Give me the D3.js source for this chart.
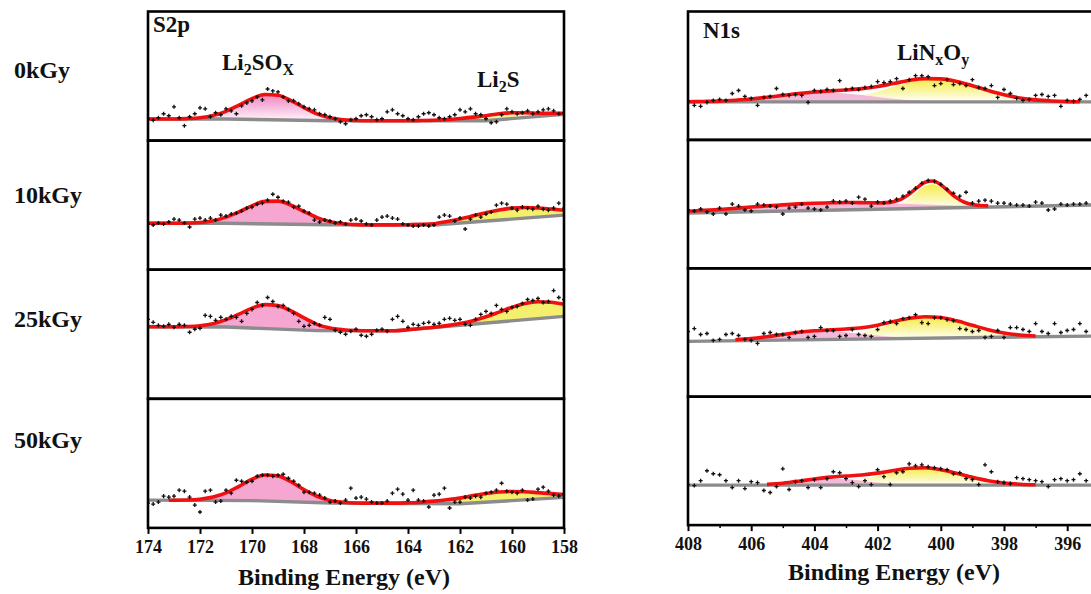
<!DOCTYPE html>
<html><head><meta charset="utf-8">
<script src="https://cdn.jsdelivr.net/npm/d3@7"></script>
<style>
html,body{margin:0;padding:0;background:#fff;overflow:hidden}
svg text{font-family:"Liberation Serif","Times New Roman",serif;font-weight:bold;fill:#111}
</style></head><body>
<svg id="c" width="1091" height="594"></svg>
<script>
// ---------------- DATA ----------------
const doseLabels = ["0kGy","10kGy","25kGy","50kGy"];
const s2pTicks = [174,172,170,168,166,164,162,160,158];
const n1sTicks = [408,406,404,402,400,398,396];
const n1sMinorTicks = [407,405,403,401,399,397,395];

// S2p region (binding energy, intensity a.u.)
const s2pBackground = [
 [[174,21.7],[171,21.7],[167,20],[161,20],[158,26.5]],
 [[174,46.7],[171,46.7],[167,45.2],[163,45],[158,55]],
 [[174,72.5],[171,72.3],[167.5,68.6],[164.5,68.5],[158,83]],
 [[174,28],[170,27.5],[167,25],[162,24.3],[158,30.7]]
];
const s2pLi2SOx = [
 [[173,21.7],[172.5,22.1],[172,23.0],[171.5,25.2],[171,29.5],[170.5,35.7],[170,42.3],[169.5,46.4],[169,45.6],[168.5,40.3],[168,33.2],[167.5,26.9],[167,22.9],[166.5,21.0],[166,20.3],[165.5,20]],
 [[173,46.7],[172.5,47.0],[172,47.6],[171.5,49.3],[171,52.9],[170.5,58.2],[170,64.3],[169.5,68.8],[169,69.05],[168.5,65.0],[168,58.6],[167.5,52.5],[167,48.4],[166.5,46.3],[166,45.4],[165.5,45.1]],
 [[173,72.5],[172.5,72.8],[172,73.6],[171.5,75.6],[171,79.7],[170.5,85.3],[170,91.3],[169.5,94.8],[169,93.8],[168.5,88.5],[168,81.4],[167.5,75.0],[167,71.3],[166.5,69.6],[166,68.8],[165.5,68.5]],
 [[173,27.9],[172.5,28.1],[172,28.9],[171.5,31.0],[171,35.2],[170.5,41.9],[170,49.1],[169.5,53.3],[169,52.4],[168.5,46.5],[168,38.6],[167.5,31.9],[167,27.7],[166.5,25.9],[166,25.1],[165.5,24.9]]
];
const s2pLi2S = [
 [[163.5,20.2],[163,20.5],[162.5,21.1],[162,22.2],[161.5,23.6],[161,25.1],[160.5,27.0],[160,28.0],[159.5,28.1],[159,27.6],[158.5,27.4],[158,27.5]],
 [[164,45.3],[163.5,45.6],[163,46.3],[162.5,48.5],[162,51.1],[161.5,54.2],[161,57.4],[160.5,60.2],[160,62.0],[159.5,62.6],[159,62.2],[158.5,61.1],[158,59.9]],
 [[163.5,70.8],[163,72.1],[162.5,73.7],[162,75.8],[161.5,78.7],[161,82.6],[160.5,87.3],[160,92.1],[159.5,96.0],[159,97.7],[158.5,97.3],[158,95.2]],
 [[164.5,24.9],[164,25.3],[163.5,25.9],[163,26.95],[162.5,28.3],[162,30.0],[161.5,32.6],[161,34.7],[160.5,36.2],[160,36.7],[159.5,36.4],[159,35.5],[158.5,34.5],[158,33.7]]
];
const s2pEnvelope = [
 [[174,21.7],[173,21.7],[172.5,22.1],[172,23.0],[171.5,25.2],[171,29.5],[170.5,35.7],[170,42.3],[169.5,46.4],[169,45.6],[168.5,40.3],[168,33.2],[167.5,26.9],[167,22.9],[166.5,21.0],[166,20.3],[165.5,20],[164,20],[163.5,20.2],[163,20.5],[162.5,21.1],[162,22.2],[161.5,23.6],[161,25.1],[160.5,27.0],[160,28.0],[159.5,28.1],[159,27.6],[158.5,27.4],[158,27.5]],
 [[174,46.7],[173,46.7],[172.5,47.0],[172,47.6],[171.5,49.3],[171,52.9],[170.5,58.2],[170,64.3],[169.5,68.8],[169,69.05],[168.5,65.0],[168,58.6],[167.5,52.5],[167,48.4],[166.5,46.3],[166,45.4],[165.5,45.1],[164.5,45.1],[164,45.3],[163.5,45.6],[163,46.3],[162.5,48.5],[162,51.1],[161.5,54.2],[161,57.4],[160.5,60.2],[160,62.0],[159.5,62.6],[159,62.2],[158.5,61.1],[158,59.9]],
 [[174,72.5],[173,72.5],[172.5,72.8],[172,73.6],[171.5,75.6],[171,79.7],[170.5,85.3],[170,91.3],[169.5,94.8],[169,93.8],[168.5,88.5],[168,81.4],[167.5,75.0],[167,71.3],[166.5,69.6],[166,68.8],[165.5,68.5],[164.5,68.5],[164,69.6],[163.5,70.8],[163,72.1],[162.5,73.7],[162,75.8],[161.5,78.7],[161,82.6],[160.5,87.3],[160,92.1],[159.5,96.0],[159,97.7],[158.5,97.3],[158,95.2]],
 [[173.2,27.9],[172.5,28.1],[172,28.9],[171.5,31.0],[171,35.2],[170.5,41.9],[170,49.1],[169.5,53.3],[169,52.4],[168.5,46.5],[168,38.6],[167.5,31.9],[167,27.7],[166.5,25.9],[166,25.1],[165.5,24.9],[164.5,24.9],[164,25.3],[163.5,25.9],[163,26.95],[162.5,28.3],[162,30.0],[161.5,32.6],[161,34.7],[160.5,36.2],[160,36.7],[159.5,36.4],[159,35.5],[158.5,34.5],[158,33.7]]
];
// measured S2p spectra, 174 eV -> 158 eV in 0.2 eV steps
const s2pScanStart = 174, s2pScanStep = 0.2;
const s2pScan = [
 [22,20.5,23,27,25,34,23,15,24,27,33,32,24,28,26,32,30,27,35,38,40,44,41,52,50,49,44,40,40,37,34,32,31,27,26,24,22,19,17,21,22,25,26,24,21,22,29,31,27,25,22,21,24,27,28,26,23,22,24,26,31,29,32,27,26,22,18,19,26,32,29,27,28,30,27,29,31,32,30,27,28],
 [46,45,47,46,48,51,50,47,43,51,52,50,52,50,55,54,56,57,59,62,63,66,67,70,76,73,69,68,63,64,59,57,50,48,50,49,47,48,46,50,51,49,46,45,50,53,54,52,51,46,45,44,44,45,44,45,53,55,54,49,52,41,51,55,53,56,58,65,67,66,62,60,63,62,61,64,61,60,62,67,62],
 [80,77,74,73,75,72,75,74,67,70,71,84,83,79,82,80,83,82,78,86,90,97,94,102,98,93,94,90,86,78,73,74,76,74,82,80,69,67,65,68,70,64,63,65,69,70,68,80,83,78,72,75,74,76,77,75,76,80,81,79,80,75,74,80,85,88,86,94,90,88,92,93,96,100,99,101,97,98,109,102,100],
 [25,24,26,32,31,32,38,37,31,23,16,37,38,26,27,38,35,48,47,46,47,52,53,53,52,53,54,50,47,43,36,36,35,33,30,26,27,25,28,40,30,31,29,26,25,25,27,35,39,34,28,38,28,27,21,33,34,40,20,26,26,31,30,32,31,35,36,38,45,37,36,35,38,28,29,39,41,37,33,32,34]
];

// N1s region
const n1sBackground = [
 [[408,38.5],[394,38.5]],
 [[408,56],[394,64.8]],
 [[408,56],[394,61.9]],
 [[408,40.5],[394,40.5]]
];
const n1sHighBE = [
 [[408,38.65],[407.5,38.9],[407,39.3],[406.5,40.2],[406,41.4],[405.5,43.1],[405,45.0],[404.5,46.7],[404,47.8],[403.5,47.9],[403,47.0],[402.5,45.4],[402,43.5],[401.5,41.7],[401,40.4],[400.5,39.5],[400,39.0],[399.5,38.7],[399,38.6],[398.5,38.5]],
 [[408,57.7],[407.5,58.6],[407,59.6],[406.5,60.7],[406,62.0],[405.5,63.2],[405,64.2],[404.5,65.2],[404,65.9],[403.5,66.3],[403,66.6],[402.5,66.5],[402,66.1],[401.5,65.7],[401,65.1],[400.5,64.5],[400,64.0],[399.5,63.7],[399,63.4],[398.5,63.2],[398,63.1],[397.5,63.1],[397,63.25],[396.5,63.4],[396,63.7]],
 [[407,57.05],[406.5,57.7],[406,58.9],[405.5,60.75],[405,62.9],[404.5,64.9],[404,66.1],[403.5,66.2],[403,65.2],[402.5,63.5],[402,61.9],[401.5,60.65],[401,59.85],[400.5,59.6],[400,59.5]],
 [[406,40.5],[405.5,41.25],[405,42.4],[404.5,44.2],[404,46.2],[403.5,47.3],[403,46.8],[402.5,45.0],[402,43.1],[401.5,41.6],[401,40.9],[400.5,40.6],[400,40.5]]
];
const n1sLiNxOy = [
 [[404.5,38.8],[404,39.2],[403.5,40.2],[403,42.1],[402.5,45.0],[402,49.1],[401.5,53.9],[401,58.3],[400.5,61.0],[400,61.3],[399.5,59.0],[399,54.8],[398.5,50.1],[398,45.8],[397.5,42.5],[397,40.5],[396.5,39.4],[396,38.8],[395.5,38.6]],
 [[402,59.9],[401.75,60.45],[401.5,61.9],[401.25,64.95],[401,70.4],[400.75,77.35],[400.5,83.3],[400.25,85.05],[400,81.6],[399.75,75.2],[399.5,69.0],[399.25,64.85],[399,62.8],[398.75,62.15],[398.5,62.0]],
 [[404,58.3],[403.5,59.4],[403,61.4],[402.5,64.6],[402,69.0],[401.5,74.15],[401,78.45],[400.5,80.6],[400,80.0],[399.5,76.8],[399,72.3],[398.5,67.9],[398,64.5],[397.5,62.5],[397,61.5],[396.5,61.1]],
 [[404.5,40.7],[404,41.0],[403.5,41.8],[403,43.4],[402.5,46.2],[402,50.0],[401.5,54.1],[401,57.1],[400.5,57.9],[400,56.1],[399.5,52.5],[399,48.4],[398.5,44.9],[398,42.6],[397.5,41.4],[397,40.8],[396.5,40.5]]
];
const n1sEnvelope = [
 [[408,38.65],[407.5,38.9],[407,39.3],[406.5,40.2],[406,41.4],[405.5,43.1],[405,45.1],[404.5,47.0],[404,48.5],[403.5,49.6],[403,50.6],[402.5,51.9],[402,54.1],[401.5,57.1],[401,60.2],[400.5,62.0],[400,61.8],[399.5,59.2],[399,54.9],[398.5,50.1],[398,45.8],[397.5,42.5],[397,40.5],[396.5,39.4],[396,38.8],[395.6,38.6]],
 [[408,57.7],[407.5,58.6],[407,59.6],[406.5,60.7],[406,62.0],[405.5,63.2],[405,64.2],[404.5,65.2],[404,65.9],[403.5,66.3],[403,66.6],[402.5,66.5],[402,66.2],[401.75,66.45],[401.5,67.5],[401.25,70.15],[401,75.1],[400.75,81.65],[400.5,87.1],[400.25,88.45],[400,84.6],[399.75,77.8],[399.5,71.3],[399.25,66.85],[399,64.5],[398.75,63.6],[398.5,63.2]],
 [[406.5,57.7],[406,58.9],[405.5,60.75],[405,62.95],[404.5,65.2],[404,66.7],[403.5,67.7],[403,68.5],[402.5,69.8],[402,72.4],[401.5,76.05],[401,79.35],[400.5,81.0],[400,80.1],[399.5,76.8],[399,72.3],[398.5,67.9],[398,64.5],[397.5,62.5],[397,61.5]],
 [[405.5,41.25],[405,42.45],[404.5,44.4],[404,46.7],[403.5,48.6],[403,49.7],[402.5,50.7],[402,52.6],[401.5,55.2],[401,57.5],[400.5,58.0],[400,56.1],[399.5,52.5],[399,48.4],[398.5,44.9],[398,42.6],[397.5,41.4],[397,40.8]]
];
// measured N1s spectra, 408 eV -> 395.4 eV in 0.2 eV steps
const n1sScanStart = 408, n1sScanStep = 0.2;
const n1sScan = [
 [39,35,34,38,40,41,40,47,50,44,42,35,43,44,52,46,45,46,45,38,50,49,51,50,60,51,52,51,53,54,59,58,59,62,52,61,65,65,64,55,57,61,56,57,55,61,53,52,55,43,51,47,42,40,41,45,46,44,45,34,40,39,41,45],
 [59,58,60,57,55,61,55,65,63,59,58,65,64,63,62,55,61,62,65,61,60,59,62,68,67,68,66,72,70,63,67,66,68,70,73,77,81,86,89,88,85,80,76,73,77,66,68,69,68,66,66,65,64,64,63,67,66,59,60,65,64,65,65,66],
 [66,69,63,64,57,58,63,64,62,58,57,54,64,65,63,63,60,65,66,60,61,70,67,67,61,62,68,63,62,61,68,75,76,74,79,80,83,75,74,80,80,78,77,69,68,66,67,60,61,67,60,70,70,68,66,74,66,64,74,65,67,68,74,66],
 [41,40,45,55,52,51,45,38,45,37,44,43,35,33,39,57,36,44,45,38,46,38,47,54,53,47,43,39,45,41,56,49,41,53,54,62,60,61,59,58,57,56,52,53,47,46,41,61,54,44,43,42,48,47,46,45,44,39,46,47,45,46,52,45]
];

// ---------------- STYLE / LAYOUT ----------------
const W = 1091, H = 594;
const leftLayout  = {x0:148, x1:564,   top:11.5, ph:129.1};
const rightLayout = {x0:688, x1:1130.4, top:11.5, ph:128.4};
const yMax = 130;
const sPinkFill = ["url(#pinkFade)","#f5a7d2","#f5a7d2","#f5a7d2"];
const sYellowFill = ["#f7f39a","#f5ef6e","#f5ef6e","#f5ef6e"];
const nPinkFill = "#f3b9d9";
const nYellowFill = "url(#yellowFade)";

const svg = d3.select("#c");
svg.append("rect").attr("width",W).attr("height",H).attr("fill","#fff");
const defs = svg.append("defs");
function vgrad(id, stops){
  const g = defs.append("linearGradient").attr("id",id).attr("x1",0).attr("y1",0).attr("x2",0).attr("y2",1);
  stops.forEach(s=>g.append("stop").attr("offset",s[0]).attr("stop-color",s[1]));
}
vgrad("pinkFade",[[0,"#ef86c3"],[0.55,"#f7c3e1"],[1,"#fff6fb"]]);
vgrad("yellowFade",[[0,"#f6ec4a"],[0.55,"#faf6a8"],[1,"#ffffff"]]);

function drawPanel(g, x, top, ph, idx, bg, comps, env, scan, scanStart, scanStep, clipId){
  const bottom = top + ph;
  const y = d3.scaleLinear().domain([0,yMax]).range([bottom, top]);
  const bgScale = d3.scaleLinear().domain(bg.map(d=>d[0])).range(bg.map(d=>d[1]));
  defs.append("clipPath").attr("id",clipId).append("rect")
    .attr("x",x.range()[0]).attr("y",top).attr("width",x.range()[1]-x.range()[0]).attr("height",ph);
  const c = g.append("g").attr("clip-path",`url(#${clipId})`);
  const area = d3.area().x(d=>x(d[0])).y0(d=>y(bgScale(d[0]))).y1(d=>y(d[1])).curve(d3.curveMonotoneX);
  comps.forEach(cp=>{
    c.append("path").attr("d",area(cp.data)).attr("fill",cp.fill).attr("stroke","none");
  });
  c.append("path").attr("d",d3.line().x(d=>x(d[0])).y(d=>y(d[1]))(bg))
    .attr("fill","none").attr("stroke","#8c8c8c").attr("stroke-width",3.4);
  c.append("path").attr("d",d3.line().x(d=>x(d[0])).y(d=>y(d[1])).curve(d3.curveMonotoneX)(env))
    .attr("fill","none").attr("stroke","#f01010").attr("stroke-width",3.6).attr("stroke-linejoin","round");
  const sym = d3.symbol().type(d3.symbolCross).size(9);
  c.selectAll("path.pt").data(scan).join("path").attr("class","pt")
    .attr("transform",(v,i)=>`translate(${x(scanStart - i*scanStep)},${y(v)})`)
    .attr("d",sym).attr("fill","#111");
  g.append("rect").attr("x",x.range()[0]).attr("y",top)
    .attr("width",x.range()[1]-x.range()[0]).attr("height",ph)
    .attr("fill","none").attr("stroke","#000").attr("stroke-width",2.6);
}

// ---- S2p (left) ----
const xS = d3.scaleLinear().domain([174,158]).range([leftLayout.x0,leftLayout.x1]);
const gL = svg.append("g");
for(let i=0;i<4;i++){
  drawPanel(gL, xS, leftLayout.top + i*leftLayout.ph, leftLayout.ph, i,
    s2pBackground[i],
    [{data:s2pLi2S[i],fill:sYellowFill[i]},{data:s2pLi2SOx[i],fill:sPinkFill[i]}],
    s2pEnvelope[i], s2pScan[i], s2pScanStart, s2pScanStep, "clipS"+i);
}
const leftBottom = leftLayout.top + 4*leftLayout.ph;
const axL = svg.append("g").attr("transform",`translate(0,${leftBottom})`)
  .call(d3.axisBottom(xS).tickValues(s2pTicks).tickSize(6).tickPadding(6).tickFormat(d3.format("d")));
axL.select(".domain").remove();
axL.selectAll(".tick line").attr("stroke","#000").attr("stroke-width",2);
axL.selectAll(".tick text").attr("font-size",18).attr("font-family","Liberation Serif, serif").attr("font-weight","bold").attr("fill","#111");

// ---- N1s (right) ----
const xN = d3.scaleLinear().domain([408,394]).range([rightLayout.x0,rightLayout.x1]);
const gR = svg.append("g");
for(let i=0;i<4;i++){
  drawPanel(gR, xN, rightLayout.top + i*rightLayout.ph, rightLayout.ph, i,
    n1sBackground[i],
    [{data:n1sLiNxOy[i],fill:nYellowFill},{data:n1sHighBE[i],fill:nPinkFill}],
    n1sEnvelope[i], n1sScan[i], n1sScanStart, n1sScanStep, "clipN"+i);
}
const rightBottom = rightLayout.top + 4*rightLayout.ph;
const axR = svg.append("g").attr("transform",`translate(0,${rightBottom})`)
  .call(d3.axisBottom(xN).tickValues(n1sTicks).tickSize(6).tickPadding(6).tickFormat(d3.format("d")));
axR.select(".domain").remove();
axR.selectAll(".tick line").attr("stroke","#000").attr("stroke-width",2);
axR.selectAll(".tick text").attr("font-size",18).attr("font-family","Liberation Serif, serif").attr("font-weight","bold").attr("fill","#111");
const axRm = svg.append("g").attr("transform",`translate(0,${rightBottom})`)
  .call(d3.axisBottom(xN).tickValues(n1sMinorTicks).tickSize(3).tickFormat(""));
axRm.select(".domain").remove();
axRm.selectAll(".tick line").attr("stroke","#000").attr("stroke-width",1.5);

// ---- texts ----
const doseY = [78,203,327,448];
doseLabels.forEach((t,i)=>svg.append("text").attr("x",14).attr("y",doseY[i]).attr("font-size",24).text(t));
svg.append("text").attr("x",153).attr("y",32).attr("font-size",23).text("S2p");
svg.append("text").attr("x",703).attr("y",38).attr("font-size",23).text("N1s");

function subText(x, y, parts){
  const t = svg.append("text").attr("x",x).attr("y",y).attr("font-size",23);
  let sub = false;
  parts.forEach(p=>{
    const isSub = p[1];
    const ts = t.append("tspan").text(p[0]).attr("font-size", isSub?16:23);
    if(isSub && !sub){ ts.attr("dy",5); sub = true; }
    else if(!isSub && sub){ ts.attr("dy",-5); sub = false; }
  });
  return t;
}
subText(222, 70, [["Li",0],["2",1],["SO",0],["X",1]]);
subText(477, 87, [["Li",0],["2",1],["S",0]]);
subText(897, 60, [["LiN",0],["x",1],["O",0],["y",1]]);

svg.append("text").attr("x",344).attr("y",585).attr("text-anchor","middle").attr("font-size",24).text("Binding Energy (eV)");
svg.append("text").attr("x",894).attr("y",580).attr("text-anchor","middle").attr("font-size",24).text("Binding Energy (eV)");
</script>
</body></html>
